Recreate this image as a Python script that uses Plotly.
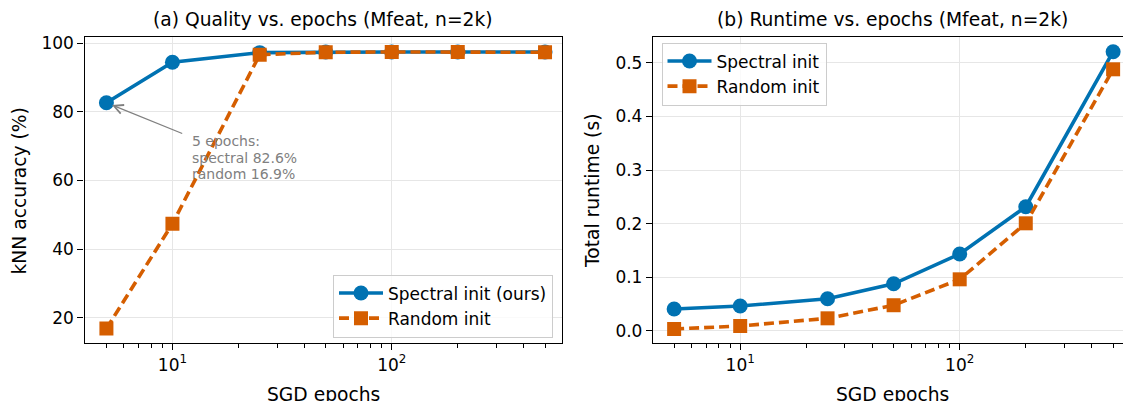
import math
import plotly.graph_objects as go

# ---------------- data ----------------
epochs = [5, 10, 25, 50, 100, 200, 500]
spectral_acc = [82.6, 94.4, 97.2, 97.4, 97.4, 97.4, 97.4]
random_acc = [16.9, 47.4, 96.6, 97.3, 97.4, 97.4, 97.3]
spectral_time = [0.041, 0.0466, 0.060, 0.088, 0.1435, 0.2317, 0.5206]
random_time = [0.0037, 0.0093, 0.0236, 0.048, 0.0963, 0.2007, 0.4878]

acc_ticks = [20, 40, 60, 80, 100]
time_ticks = [0.0, 0.1, 0.2, 0.3, 0.4, 0.5]
major_x = [10, 100]
major_x_text = ["10<sup>1</sup>", "10<sup>2</sup>"]
minor_x = [5, 6, 7, 8, 9, 20, 30, 40, 50, 60, 70, 80, 90, 200, 300, 400, 500]

title_a = "(a) Quality vs. epochs (Mfeat, n=2k)"
title_b = "(b) Runtime vs. epochs (Mfeat, n=2k)"
note_lines = ["5 epochs:", "spectral 82.6%", "random 16.9%"]

# ---------------- style ----------------
W, H = 1123, 401
BLUE = "#0072B2"
ORANGE = "#D55E00"
FONT = "DejaVu Sans"
GRID = "#e6e6e6"


def px(x):
    return x / W


def py(y):
    return 1 - y / H


top, bottom = 37.0, 343.0
L0, L1 = 84.5, 561.7
R0, R1 = 653.0, 1123.0

fig = go.Figure()

line_kw_s = dict(color=BLUE, width=3.6)
line_kw_r = dict(color=ORANGE, width=3.6, dash="10px,5px")

fig.add_trace(go.Scatter(x=epochs, y=spectral_acc, mode="lines+markers",
                         name="Spectral init (ours)", line=line_kw_s,
                         marker=dict(symbol="circle", size=15, color=BLUE),
                         xaxis="x", yaxis="y", legend="legend"))
fig.add_trace(go.Scatter(x=epochs, y=random_acc, mode="lines+markers",
                         name="Random init", line=line_kw_r,
                         marker=dict(symbol="square", size=14, color=ORANGE),
                         xaxis="x", yaxis="y", legend="legend"))
fig.add_trace(go.Scatter(x=epochs, y=spectral_time, mode="lines+markers",
                         name="Spectral init", line=line_kw_s,
                         marker=dict(symbol="circle", size=15, color=BLUE),
                         xaxis="x2", yaxis="y2", legend="legend2"))
fig.add_trace(go.Scatter(x=epochs, y=random_time, mode="lines+markers",
                         name="Random init", line=line_kw_r,
                         marker=dict(symbol="square", size=14, color=ORANGE),
                         xaxis="x2", yaxis="y2", legend="legend2"))

common_axis = dict(showline=True, linecolor="black", linewidth=1.3,
                   ticks="outside", ticklen=6, tickwidth=1.3, tickcolor="black",
                   showgrid=True, gridcolor=GRID, gridwidth=1.3, zeroline=False,
                   automargin=False,
                   tickfont=dict(family=FONT, size=17, color="black"))

xcommon = dict(common_axis, type="log", tickmode="array", tickvals=major_x,
               ticktext=major_x_text,
               minor=dict(tickmode="array", tickvals=minor_x, ticks="outside",
                          ticklen=3.4, tickwidth=1.1, tickcolor="black",
                          showgrid=False))

fig.update_layout(
    width=W, height=H, autosize=False,
    margin=dict(l=0, r=0, t=0, b=0, autoexpand=False),
    paper_bgcolor="white", plot_bgcolor="white",
    font=dict(family=FONT, size=17, color="black"),
    xaxis=dict(xcommon, domain=[px(L0), px(L1)], range=[0.599, 2.775],
               anchor="y", mirror=True),
    yaxis=dict(common_axis, domain=[py(bottom), py(top)], range=[12.7, 101.75],
               tickmode="array", tickvals=acc_ticks, anchor="x", mirror=True),
    xaxis2=dict(xcommon, domain=[px(R0), px(R1)], range=[0.6027, 2.744],
                anchor="y2", mirror=True),
    yaxis2=dict(common_axis, domain=[py(bottom), py(top)], range=[-0.0224, 0.548],
                tickmode="array", tickvals=time_ticks, tickformat=".1f",
                anchor="x2", mirror=False),
    legend=dict(x=px(333), y=py(306), xanchor="left", yanchor="middle",
                bgcolor="rgba(255,255,255,0.8)", bordercolor="#cccccc",
                borderwidth=1, font=dict(family=FONT, size=17, color="black"),
                itemwidth=44, tracegroupgap=0),
    legend2=dict(x=px(661.5), y=py(74), xanchor="left", yanchor="middle",
                 bgcolor="rgba(255,255,255,0.8)", bordercolor="#cccccc",
                 borderwidth=1, font=dict(family=FONT, size=17, color="black"),
                 itemwidth=44, tracegroupgap=0),
    showlegend=True,
)

ann = []
# titles
ann.append(dict(text=title_a, x=px((L0 + L1) / 2), y=py(19.5), xref="paper", yref="paper",
                xanchor="center", yanchor="middle", showarrow=False,
                font=dict(family=FONT, size=18.7, color="black")))
ann.append(dict(text=title_b, x=px(892), y=py(19.5), xref="paper", yref="paper",
                xanchor="center", yanchor="middle", showarrow=False,
                font=dict(family=FONT, size=18.7, color="black")))
# axis titles
for cx in [(L0 + L1) / 2, 892]:
    ann.append(dict(text="SGD epochs", x=px(cx), y=py(394), xref="paper", yref="paper",
                    xanchor="center", yanchor="middle", showarrow=False,
                    font=dict(family=FONT, size=18.7, color="black")))
ann.append(dict(text="kNN accuracy (%)", x=px(18.5), y=py(191), xref="paper", yref="paper",
                xanchor="center", yanchor="middle", showarrow=False, textangle=-90,
                font=dict(family=FONT, size=18.7, color="black")))
ann.append(dict(text="Total runtime (s)", x=px(592), y=py(191), xref="paper", yref="paper",
                xanchor="center", yanchor="middle", showarrow=False, textangle=-90,
                font=dict(family=FONT, size=18.7, color="black")))
# arrow
ann.append(dict(text="", x=math.log10(epochs[0]), y=spectral_acc[0], xref="x", yref="y",
                ax=77.3, ay=31.3, axref="pixel", ayref="pixel", showarrow=True,
                arrowhead=5, arrowsize=1.4, arrowwidth=1.3, arrowcolor="#808080",
                standoff=6))
# note text
for i, t in enumerate(note_lines):
    ann.append(dict(text=t, x=px(189.5), y=py(141.5 + 16.3 * i), xref="paper", yref="paper",
                    xanchor="left", yanchor="middle", showarrow=False,
                    font=dict(family=FONT, size=14, color="#808080")))

fig.update_layout(annotations=ann)

fig.write_html("out.html", config={"displayModeBar": False},
               post_script="document.body.style.margin='0px';document.body.style.overflow='hidden';")
